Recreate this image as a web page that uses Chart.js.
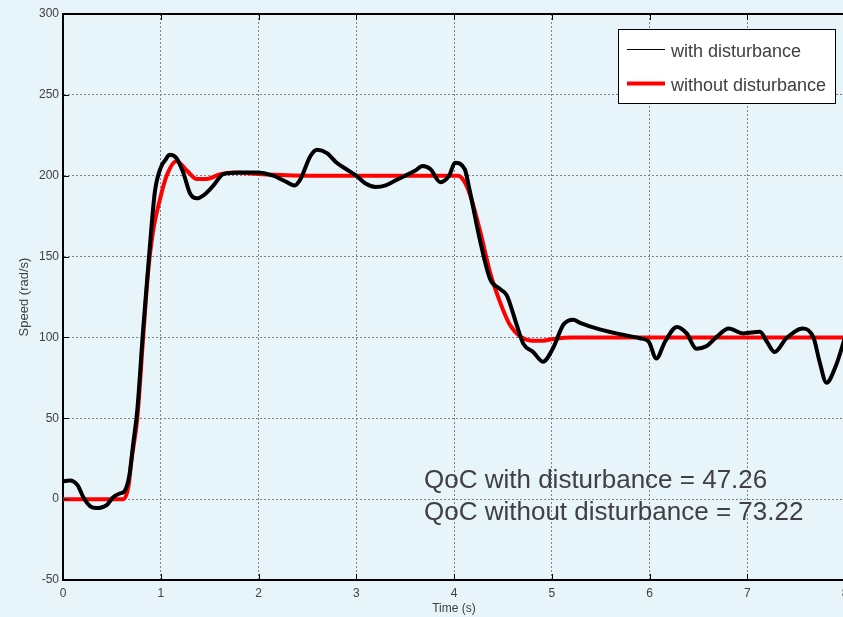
<!DOCTYPE html>
<html>
  <head>
    <title>Speed response</title>
    <meta charset="utf-8" />
    <style>
      html, body { margin: 0; padding: 0; overflow: hidden; background: #e7f4fa; }
      canvas { display: block; }
    </style>
  </head>

  <body>
    <canvas id="myChart" width="870" height="617"></canvas>
    <script src="https://cdn.jsdelivr.net/npm/chart.js@4.4.0/dist/chart.umd.min.js"></script>
    <script>
      // values
      const timeWith = [0, 0.07, 0.15, 0.21, 0.28, 0.34, 0.45, 0.51, 0.58, 0.63, 0.68, 0.72, 0.76, 0.82, 0.88, 0.94, 1.0, 1.05, 1.09, 1.16, 1.23, 1.3, 1.37, 1.44, 1.54, 1.64, 1.81, 1.98, 2.15, 2.29, 2.37, 2.43, 2.53, 2.6, 2.7, 2.8, 2.9, 3.0, 3.1, 3.2, 3.3, 3.4, 3.5, 3.6, 3.68, 3.76, 3.86, 3.95, 4.01, 4.11, 4.16, 4.27, 4.37, 4.47, 4.54, 4.64, 4.71, 4.81, 4.91, 5.01, 5.12, 5.22, 5.29, 5.49, 5.7, 5.9, 5.99, 6.07, 6.16, 6.28, 6.38, 6.48, 6.58, 6.69, 6.81, 6.96, 7.13, 7.2, 7.28, 7.4, 7.57, 7.68, 7.74, 7.81, 7.91, 8.0];
      const speedWith = [11, 11.5, 8.5, 1, -4.5, -5.5, -3.5, 1, 3.5, 5, 15, 35, 55, 105, 150, 190, 205, 210, 213, 211, 202, 189, 186, 188, 194, 201, 202, 202, 200, 196, 194, 198, 212, 216, 214, 208, 204, 200, 195, 193, 194, 197, 200, 203, 206, 204, 196, 200, 208, 204, 191, 159, 136, 130, 126, 108, 96, 91, 85, 93, 108, 111, 109, 105, 102, 99.5, 97.5, 87, 97.5, 106.5, 102.5, 93, 94.5, 100.5, 105.5, 102.5, 103.5, 97.5, 91, 99.5, 105.5, 99.5, 85, 72, 83, 100];
      const timeWithout = [0, 0.62, 0.67, 0.7, 0.76, 0.82, 0.87, 0.92, 0.99, 1.06, 1.16, 1.27, 1.37, 1.47, 1.61, 1.75, 2.0, 2.5, 4.04, 4.1, 4.16, 4.27, 4.37, 4.47, 4.57, 4.68, 4.81, 4.91, 5.01, 5.2, 8.0];
      const speedWithout = [0, 0, 8, 24, 50, 100, 140, 165, 185, 200, 209, 203, 198, 198, 201, 202, 201, 200, 200, 197, 189, 165, 140, 122, 108, 100.5, 98, 98, 99, 100, 100];
      const seriesNames = ["with disturbance", "without disturbance"];
      const qocLines = ["QoC with disturbance = 47.26", "QoC without disturbance = 73.22"];
      const xTicks = { min: 0, max: 8, step: 1 };
      const yTicks = { min: -50, max: 300, step: 50 };

      const toPoints = (xs, ys) => xs.map((x, i) => ({ x: x, y: ys[i] }));
      const FONT = "'Liberation Sans', Arial, sans-serif";
      const TXT = "#404040";

      // top border, inner tick marks, legend box and QoC text
      const extras = {
        id: "extras",
        afterDraw(chart) {
          const c = chart.ctx;
          const a = chart.chartArea;
          const xs = chart.scales.x, ys = chart.scales.y;
          c.save();
          c.strokeStyle = "#000";
          c.lineWidth = 2;
          c.beginPath();
          c.moveTo(a.left, a.top);
          c.lineTo(a.right, a.top);
          c.stroke();
          c.lineWidth = 1;
          c.beginPath();
          xs.ticks.forEach(t => {
            const px = Math.round(xs.getPixelForValue(t.value)) + 0.5;
            c.moveTo(px, a.bottom); c.lineTo(px, a.bottom - 6);
            c.moveTo(px, a.top); c.lineTo(px, a.top + 6);
          });
          ys.ticks.forEach(t => {
            const py = Math.round(ys.getPixelForValue(t.value)) + 0.5;
            c.moveTo(a.left, py); c.lineTo(a.left + 6, py);
          });
          c.stroke();

          // legend
          const lx = 618, ly = 29, lw = 217, lh = 74;
          c.fillStyle = "#fff";
          c.fillRect(lx, ly, lw, lh);
          c.strokeStyle = "#000";
          c.lineWidth = 1;
          c.strokeRect(lx + 0.5, ly + 0.5, lw, lh);
          c.font = "18px " + FONT;
          c.textBaseline = "alphabetic";
          chart.data.datasets.forEach((ds, i) => {
            const y = 49.5 + i * 34;
            c.strokeStyle = ds.borderColor;
            c.lineWidth = i === 0 ? 1 : 4;
            c.beginPath();
            c.moveTo(627, y); c.lineTo(665, y);
            c.stroke();
            c.fillStyle = TXT;
            c.fillText(ds.label, 671, y + 7);
          });

          // QoC text
          c.font = "26px " + FONT;
          c.fillStyle = TXT;
          qocLines.forEach((s, i) => c.fillText(s, 424, 488 + i * 32));
          c.restore();
        }
      };

      const ctx = document.getElementById("myChart").getContext("2d");
      const myChart = new Chart(ctx, {
        type: "line",
        data: {
          datasets: [
            {
              label: seriesNames[0],
              data: toPoints(timeWith, speedWith),
              borderColor: "#000",
              borderWidth: 4,
              pointRadius: 0,
              cubicInterpolationMode: "monotone",
              fill: false
            },
            {
              label: seriesNames[1],
              data: toPoints(timeWithout, speedWithout),
              borderColor: "#ff0000",
              borderWidth: 4,
              pointRadius: 0,
              cubicInterpolationMode: "monotone",
              fill: false
            }
          ]
        },
        options: {
          responsive: false,
          animation: false,
          devicePixelRatio: 1,
          layout: { padding: { top: 14, right: 25, left: 0, bottom: 0 } },
          plugins: { legend: { display: false }, tooltip: { enabled: false } },
          scales: {
            x: {
              type: "linear",
              min: xTicks.min,
              max: xTicks.max,
              ticks: { stepSize: xTicks.step, color: TXT, font: { family: FONT, size: 12 }, padding: 6, maxRotation: 0 },
              grid: { color: "#808080", drawTicks: false },
              border: { color: "#000", width: 2, dash: [2, 2] },
              title: { display: true, text: "Time (s)", color: TXT, font: { family: FONT, size: 12 }, padding: { top: 0, bottom: 1 } },
              afterFit(s) { s.height = 37; }
            },
            y: {
              min: yTicks.min,
              max: yTicks.max,
              ticks: { stepSize: yTicks.step, color: TXT, font: { family: FONT, size: 12 }, padding: 4 },
              grid: { color: "#808080", drawTicks: false },
              border: { color: "#000", width: 2, dash: [2, 2] },
              title: { display: true, text: "Speed (rad/s)", color: TXT, font: { family: FONT, size: 13 }, padding: { top: 17, bottom: 0 } },
              afterFit(s) { s.width = 63; }
            }
          }
        },
        plugins: [extras]
      });
    </script>
  </body>
</html>
